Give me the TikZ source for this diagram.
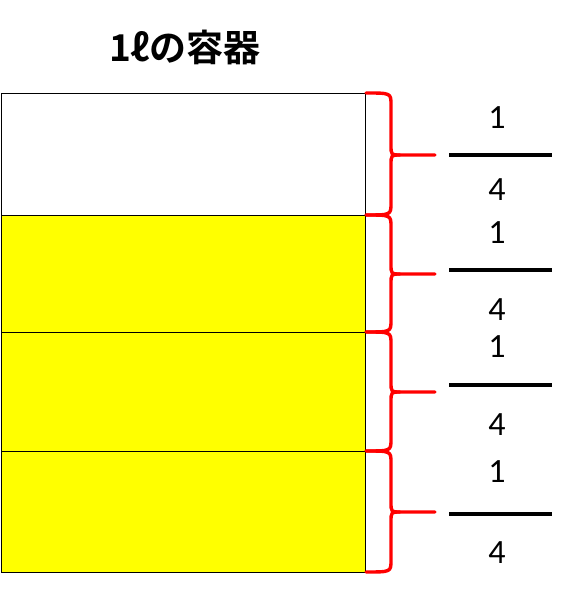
\documentclass[tikz,border=0pt]{standalone}
\usepackage{fontspec}
\setmainfont{Carlito}
\newfontfamily\jpfont{Noto Sans CJK JP}[BoldFont=* Bold]
\usetikzlibrary{positioning}
\definecolor{fillyellow}{RGB}{255,255,0}

\begin{document}
\begin{tikzpicture}
        [
            x=1pt, y=1pt,
            part/.style={
                draw=black,
                line width=0.9pt
            },
            brace/.style={
                draw=red,
                line width=3.4pt,
                line cap=round,
                line join=round
            },
            bar/.style={
                draw=black,
                line width=3.6pt
            },
            num/.style={
                inner sep=0pt,
                font=\fontsize{34}{34}\selectfont
            }
        ]
        \useasboundingbox (0,0) rectangle (566,603);
        \node (title) at (185,556)
            {\jpfont\bfseries\fontsize{37}{37}\selectfont 1ℓの容器};
        \foreach \i/\top/\bot/\tip/\line/\one/\four/\col in
            {1/510/388/448/448/485/413/white,
             2/388/271/329/333/370/293/fillyellow,
             3/271/152/211/218/256/178/fillyellow,
             4/152/31/91/89/131/50/fillyellow}
        {
            \draw[part, fill=\col] (1,\bot) rectangle (365,\top);
            \coordinate (top\i) at (366,\top);
            \coordinate (bot\i) at (366,\bot);
            \coordinate (tip\i) at (435,\tip);
            % brace, upper and lower half
            \draw[brace] (top\i) .. controls (391,\top) .. (391,\top-12)
                -- (391,\tip+10) .. controls (391,\tip) .. (400,\tip) -- (tip\i);
            \draw[brace] (bot\i) .. controls (391,\bot) .. (391,\bot+12)
                -- (391,\tip-10) .. controls (391,\tip) .. (400,\tip);
            % fraction
            \coordinate (barl\i) at (449,\line);
            \coordinate (barr\i) at (552,\line);
            \draw[bar] (barl\i) -- (barr\i);
            \node[num] (one\i) at (497,\one) {1};
            \node[num] (four\i) at (497,\four) {4};
        }
\end{tikzpicture}
\end{document}
